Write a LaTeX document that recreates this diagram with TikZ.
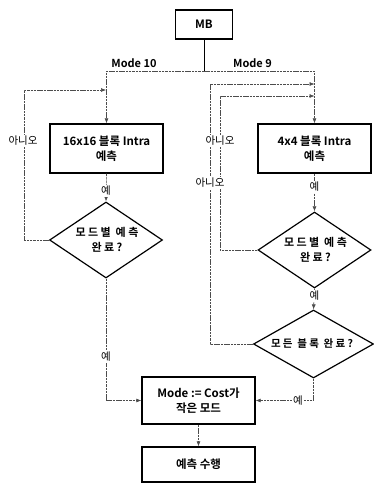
\documentclass[tikz,border=0pt]{standalone}
\usepackage{fontspec}
\setmainfont{Noto Sans CJK KR}[BoldFont={Noto Sans CJK KR Bold}]
\newfontfamily\widefont{Noto Sans CJK KR}[BoldFont={Noto Sans CJK KR Bold},LetterSpace=22]
\usetikzlibrary{arrows.meta,shapes.geometric}
\begin{document}
\begin{tikzpicture}[x=1pt,y=-1pt,
  box/.style={draw=black,line width=1.4pt,align=center,inner sep=0pt,font=\fontsize{11.5}{15}\selectfont\bfseries},
  dia/.style={draw=black,line width=1.2pt,diamond,aspect=1.5,inner sep=0pt},
  diat/.style={align=center,inner sep=0pt,font=\widefont\fontsize{11}{15}\selectfont\bfseries},
  conn/.style={line width=0.6pt,black!70,dash pattern=on 2.5pt off 0.8pt},
  arr/.style={conn,-{Latex[length=5pt,width=4pt]}},
  lbl/.style={fill=white,inner sep=1pt,font=\fontsize{10.5}{12}\selectfont},
  mlbl/.style={inner sep=0pt,font=\fontsize{11}{13}\selectfont\bfseries}]
\useasboundingbox (0,0) rectangle (374,483);
\node[box,minimum width=57pt,minimum height=29pt] (mb) at (204,24.5) {MB};
\node[mlbl] (m10) at (134,63) {Mode 10};
\node[mlbl] (m9) at (252.5,63) {Mode 9};
\coordinate (j) at (204,71);
\node[box,minimum width=113pt,minimum height=49pt] (bl) at (106.5,148.5) {16x16 블록 Intra\\예측};
\node[box,minimum width=113pt,minimum height=49pt] (br) at (314.5,148.5) {4x4 블록 Intra\\예측};
\node[dia,minimum width=113pt,minimum height=76pt] (dl) at (106,240) {};
\node[diat] (dlt) at (107,240) {모드별 예측\\완료?};
\node[dia,minimum width=113pt,minimum height=76pt] (dr) at (314.5,250) {};
\node[diat] (drt) at (315.5,250) {모드별 예측\\완료?};
\node[dia,minimum width=120pt,minimum height=68pt] (da) at (313.5,344) {};
\node[diat,font=\widefont\fontsize{10.5}{13}\selectfont\bfseries] (dat) at (312,344) {모든 블록 완료?};
\node[box,minimum width=113pt,minimum height=47pt] (mode) at (198.5,400.5) {Mode := Cost가\\작은 모드};
\node[box,minimum width=113pt,minimum height=35pt] (run) at (198.5,464.5) {예측 수행};
% connectors
\draw[line width=0.9pt] (mb.south) -- (j);
\draw[arr] (j) -| (bl.north);
\draw[arr] (j) -| (br.north);
\coordinate (l1) at (24,90);
\coordinate (l2) at (106,90);
\draw[arr] (dl.west) -| (l1) -- (l2);
\coordinate (r1) at (220,96);
\coordinate (r2) at (314.5,96);
\draw[arr] (dr.west) -| (r1) -- (r2);
\coordinate (a1) at (210,84);
\coordinate (a2) at (314.5,84);
\draw[arr] (da.west) -| (a1) -- (a2);
\draw[arr] (bl.south) -- (dl.north);
\draw[arr] (br.south) -- (dr.north);
\draw[arr] (dr.south) -- (da.north);
\coordinate (lb) at (106,400.5);
\draw[arr] (dl.south) -- (lb) -- (mode.west);
\coordinate (rb) at (313.5,400.5);
\draw[arr] (da.south) -- (rb) -- (mode.east);
\draw[arr] (mode.south) -- (run.north);
% labels
\node[lbl] (n1) at (23,141) {아니오};
\node[lbl] (n2) at (220,141) {아니오};
\node[lbl] (n3) at (210,183) {아니오};
\node[lbl] (y1) at (106,191) {예};
\node[lbl] (y2) at (314.5,187) {예};
\node[lbl] (y3) at (314.5,296) {예};
\node[lbl] (y4) at (106,357) {예};
\node[lbl] (y5) at (298,400.5) {예};
\end{tikzpicture}
\end{document}
